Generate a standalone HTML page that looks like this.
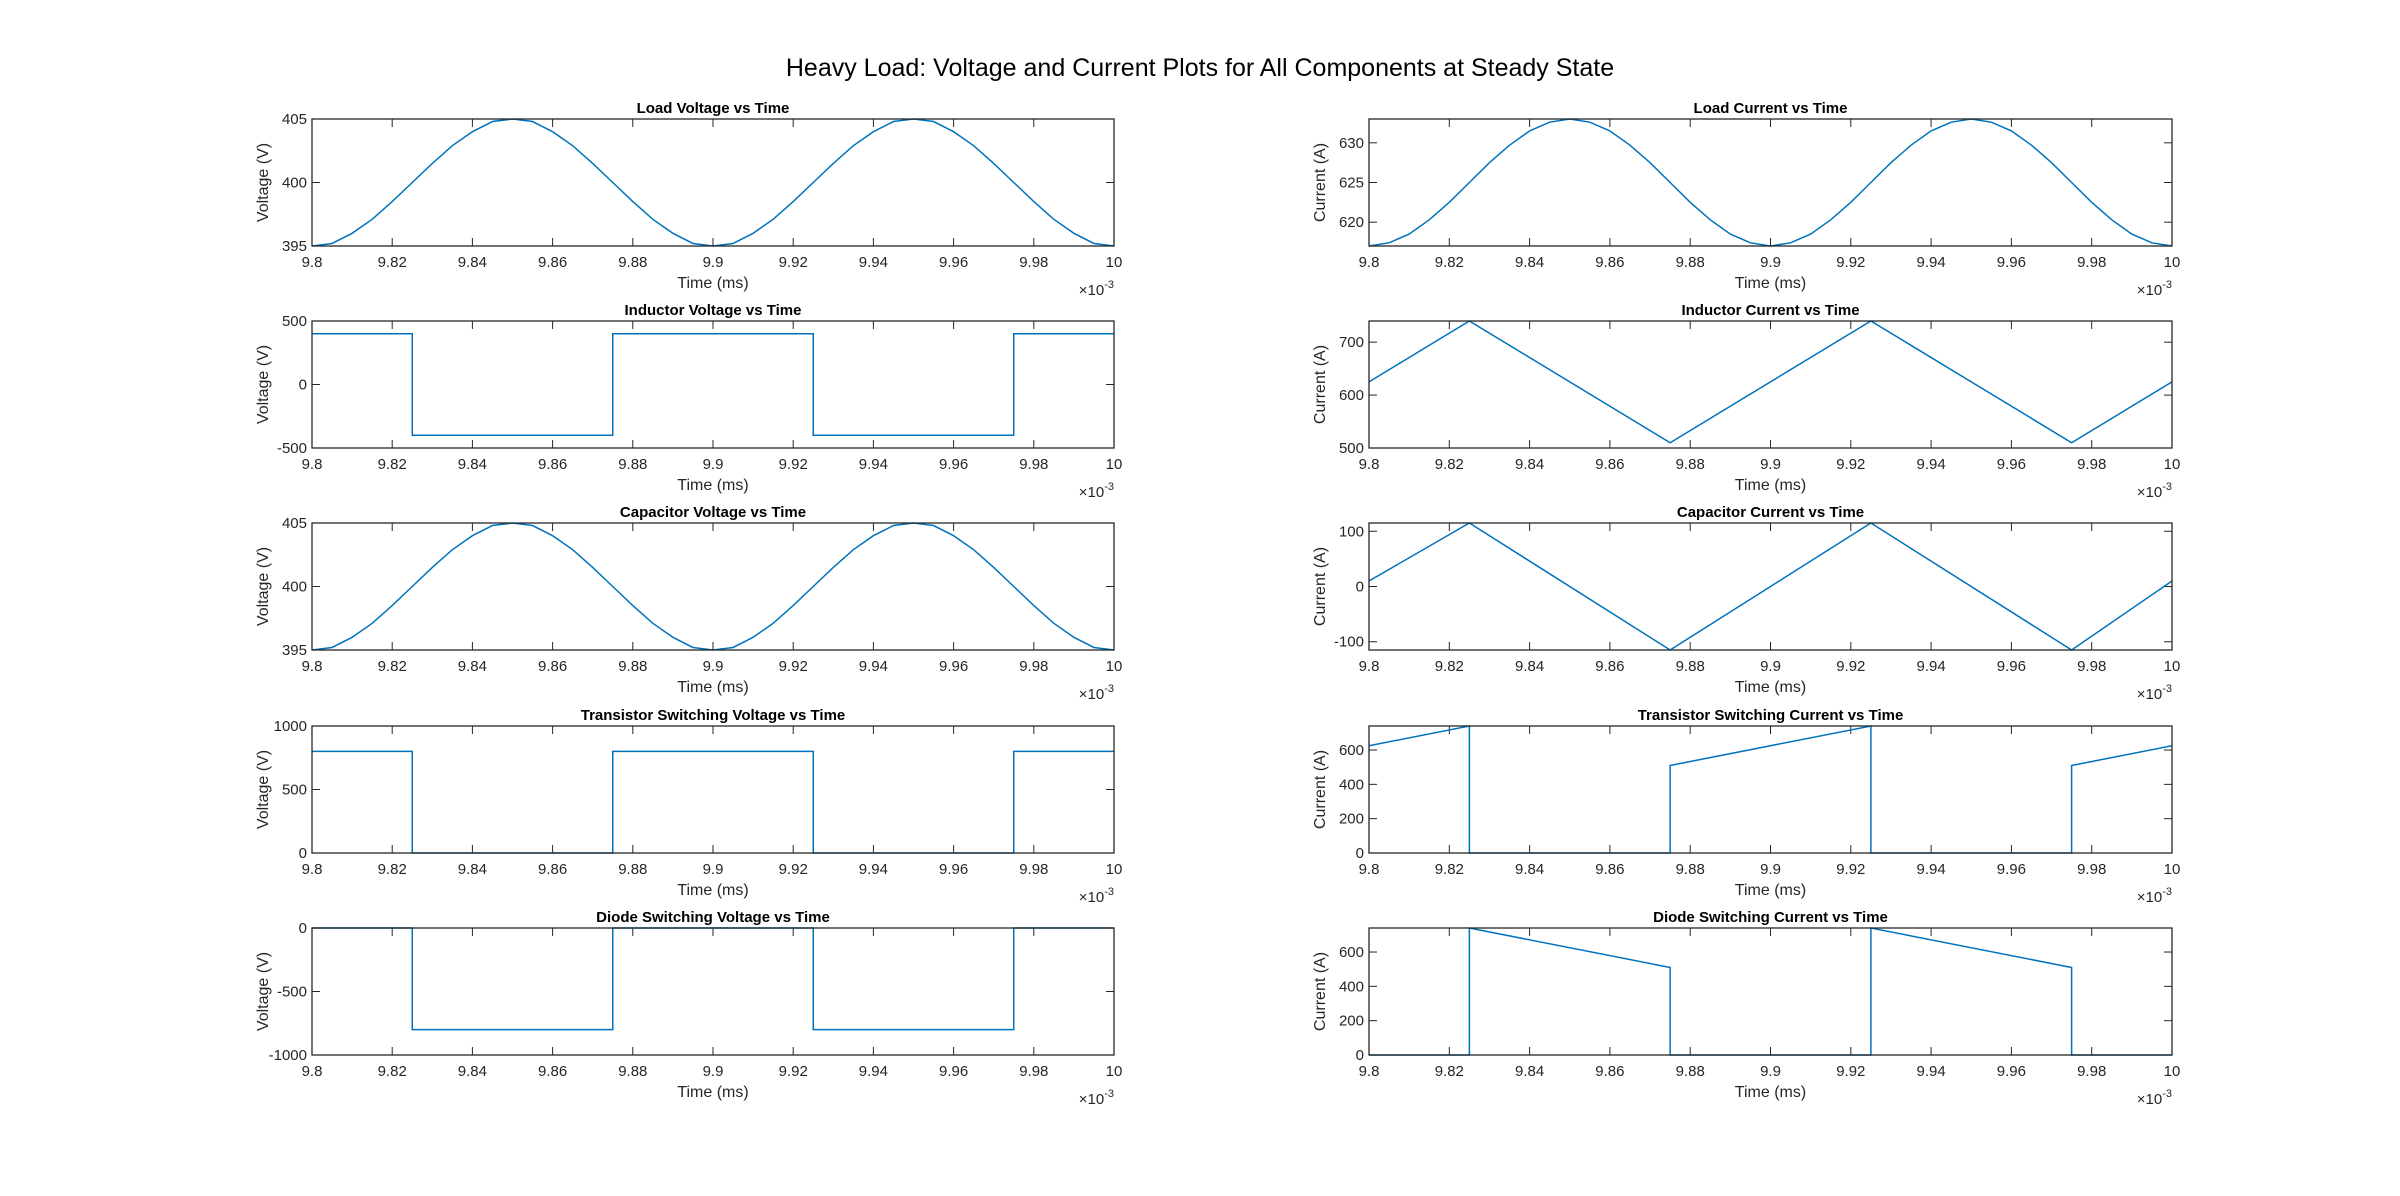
<!DOCTYPE html>
<html><head><meta charset="utf-8">
<style>
html,body{margin:0;padding:0;background:#fff;}
svg{display:block;font-family:"Liberation Sans",Arial,sans-serif;}
</style></head>
<body>
<svg id="fig" width="2400" height="1196" viewBox="0 0 2400 1196" xmlns="http://www.w3.org/2000/svg">
<rect width="2400" height="1196" fill="#fff"/>
<text x="1200" y="76" text-anchor="middle" font-size="25" fill="#000">Heavy Load: Voltage and Current Plots for All Components at Steady State</text>
</svg>
<script>
// shared x ticks
const xTicks = [9.8, 9.82, 9.84, 9.86, 9.88, 9.9, 9.92, 9.94, 9.96, 9.98, 10];
const xTickLabels = ["9.8","9.82","9.84","9.86","9.88","9.9","9.92","9.94","9.96","9.98","10"];
// sinusoid-like sample times (step 0.005)
const sineT = [9.8,9.805,9.81,9.815,9.82,9.825,9.83,9.835,9.84,9.845,9.85,9.855,9.86,9.865,9.87,9.875,9.88,9.885,9.89,9.895,9.9,9.905,9.91,9.915,9.92,9.925,9.93,9.935,9.94,9.945,9.95,9.955,9.96,9.965,9.97,9.975,9.98,9.985,9.99,9.995,10];
const loadV = [395,395.2,396.0,397.1,398.5,400,401.5,402.9,404.0,404.8,405,404.8,404.0,402.9,401.5,400,398.5,397.1,396.0,395.2,395,395.2,396.0,397.1,398.5,400,401.5,402.9,404.0,404.8,405,404.8,404.0,402.9,401.5,400,398.5,397.1,396.0,395.2,395];
const loadI = [617,617.4,618.5,620.3,622.5,625,627.5,629.7,631.5,632.6,633,632.6,631.5,629.7,627.5,625,622.5,620.3,618.5,617.4,617,617.4,618.5,620.3,622.5,625,627.5,629.7,631.5,632.6,633,632.6,631.5,629.7,627.5,625,622.5,620.3,618.5,617.4,617];
// switching waveforms
const swT = [9.8,9.825,9.825,9.875,9.875,9.925,9.925,9.975,9.975,10];
const indV = [400,400,-400,-400,400,400,-400,-400,400,400];
const indIT = [9.8,9.825,9.875,9.925,9.975,10];
const indI = [625,740,510,740,510,625];
const capI = [10,115,-115,115,-115,10];
const trV = [800,800,0,0,800,800,0,0,800,800];
const trI = [625,740,0,0,510,740,0,0,510,625];
const dV = [0,0,-800,-800,0,0,-800,-800,0,0];
const dI = [0,0,740,510,0,0,740,510,0,0];

const plots = [
 {name:"load-voltage",title:"Load Voltage vs Time",yl:"Voltage (V)",t:sineT,y:loadV,ymin:395,ymax:405,yt:[395,400,405],col:0,row:0},
 {name:"load-current",title:"Load Current vs Time",yl:"Current (A)",t:sineT,y:loadI,ymin:617,ymax:633,yt:[620,625,630],col:1,row:0},
 {name:"inductor-voltage",title:"Inductor Voltage vs Time",yl:"Voltage (V)",t:swT,y:indV,ymin:-500,ymax:500,yt:[-500,0,500],col:0,row:1},
 {name:"inductor-current",title:"Inductor Current vs Time",yl:"Current (A)",t:indIT,y:indI,ymin:500,ymax:740,yt:[500,600,700],col:1,row:1},
 {name:"capacitor-voltage",title:"Capacitor Voltage vs Time",yl:"Voltage (V)",t:sineT,y:loadV,ymin:395,ymax:405,yt:[395,400,405],col:0,row:2},
 {name:"capacitor-current",title:"Capacitor Current vs Time",yl:"Current (A)",t:indIT,y:capI,ymin:-115,ymax:115,yt:[-100,0,100],col:1,row:2},
 {name:"transistor-voltage",title:"Transistor Switching Voltage vs Time",yl:"Voltage (V)",t:swT,y:trV,ymin:0,ymax:1000,yt:[0,500,1000],col:0,row:3},
 {name:"transistor-current",title:"Transistor Switching Current vs Time",yl:"Current (A)",t:swT,y:trI,ymin:0,ymax:740,yt:[0,200,400,600],col:1,row:3},
 {name:"diode-voltage",title:"Diode Switching Voltage vs Time",yl:"Voltage (V)",t:swT,y:dV,ymin:-1000,ymax:0,yt:[-1000,-500,0],col:0,row:4},
 {name:"diode-current",title:"Diode Switching Current vs Time",yl:"Current (A)",t:swT,y:dI,ymin:0,ymax:740,yt:[0,200,400,600],col:1,row:4}
];
const NS="http://www.w3.org/2000/svg";
const svg=document.getElementById('fig');
function mk(tag,attrs,parent,text){const e=document.createElementNS(NS,tag);for(const k in attrs)e.setAttribute(k,attrs[k]);if(text!==undefined)e.textContent=text;parent.appendChild(e);return e;}
const lefts=[312,1369], W=[802,803], H=127;
const tops=[119,321,523,726,928];
plots.forEach(p=>{
  const L=lefts[p.col], w=W[p.col], T=tops[p.row], B=T+H, R=L+w;
  const g=mk('g',{},svg);
  
  
  const xs=v=>L+(v-9.8)/(10-9.8)*w;
  const ys=v=>B-(v-p.ymin)/(p.ymax-p.ymin)*H;
  // ticks
  xTicks.forEach((v,i)=>{
    const x=xs(v);
    mk('line',{x1:x,y1:B,x2:x,y2:B-8,stroke:'#262626','stroke-width':1},g);
    mk('line',{x1:x,y1:T,x2:x,y2:T+8,stroke:'#262626','stroke-width':1},g);
    const t=mk('text',{x:x,y:B+21,'text-anchor':'middle','font-size':15,fill:'#262626'},g,xTickLabels[i]);
    
    
  });
  p.yt.forEach(v=>{
    const y=ys(v);
    mk('line',{x1:L,y1:y,x2:L+8,y2:y,stroke:'#262626','stroke-width':1},g);
    mk('line',{x1:R,y1:y,x2:R-8,y2:y,stroke:'#262626','stroke-width':1},g);
    const t=mk('text',{x:L-5,y:y+5,'text-anchor':'end','font-size':15,fill:'#262626'},g,String(v));
    
    
  });
  // line
  const pts=p.t.map((t,i)=>xs(t).toFixed(2)+','+ys(p.y[i]).toFixed(2)).join(' ');
  const pl=mk('polyline',{points:pts,fill:'none',stroke:'#0072BD','stroke-width':1.5},g);
  
  
  // box
  const bx=mk('rect',{x:L,y:T,width:w,height:H,fill:'none',stroke:'#262626','stroke-width':1.3},g);
  
  
  const tt=mk('text',{x:L+w/2,y:T-6,'text-anchor':'middle','font-size':15,'font-weight':'bold',fill:'#000'},g,p.title);
  
  
  const xl=mk('text',{x:L+w/2,y:B+42,'text-anchor':'middle','font-size':16,fill:'#262626'},g,'Time (ms)');
  
  
  const yx=L-44, yy=T+H/2;
  const yl=mk('text',{x:yx,y:yy,'text-anchor':'middle','font-size':16,fill:'#262626',transform:`rotate(-90 ${yx} ${yy})`},g,p.yl);
  
  
  const ex=mk('text',{x:R,y:B+49,'text-anchor':'end','font-size':15,fill:'#262626'},g);
  
  
  mk('tspan',{},ex,'\u00d710');
  mk('tspan',{dy:-7,'font-size':11},ex,'-3');
});
</script>
</body></html>
